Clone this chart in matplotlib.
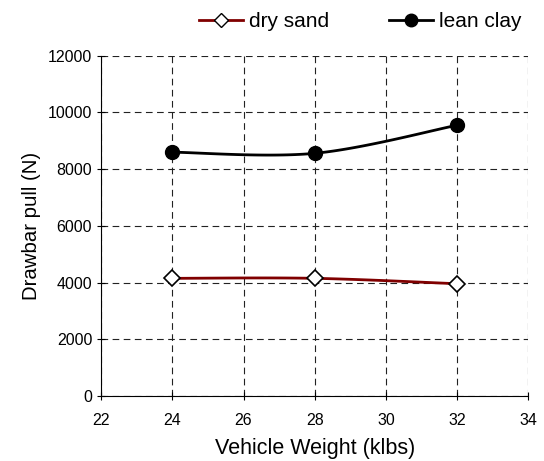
import numpy as np
import matplotlib.pyplot as plt

plt.rcParams['font.family'] = ['Liberation Sans', 'DejaVu Sans']

weight = [24, 28, 32]
dry_sand = [4150, 4150, 3960]
lean_clay = [8600, 8560, 9550]


def smooth(xs, ys, n=40):
    # Excel style smoothed line (Bezier, Catmull-Rom control points)
    p = np.column_stack([xs, ys]).astype(float)
    out = []
    for i in range(len(p) - 1):
        p0 = p[i - 1] if i > 0 else p[i]
        p3 = p[i + 2] if i + 2 < len(p) else p[i + 1]
        c1 = p[i] + (p[i + 1] - p0) / 6
        c2 = p[i + 1] - (p3 - p[i]) / 6
        t = np.linspace(0, 1, n)[:, None]
        seg = ((1 - t) ** 3 * p[i] + 3 * (1 - t) ** 2 * t * c1
               + 3 * (1 - t) * t ** 2 * c2 + t ** 3 * p[i + 1])
        out.append(seg)
    out = np.vstack(out)
    return out[:, 0], out[:, 1]


fig = plt.figure(figsize=(5.44, 4.61), dpi=100)
ax = fig.add_axes([0.186, 0.141, 0.785, 0.738])

sx, sy = smooth(weight, dry_sand)
ax.plot(sx, sy, color='#800000', lw=2, zorder=3)
ax.plot(weight, dry_sand, ls='none', marker='D', ms=8, mfc='white',
        mec='black', mew=1.2, zorder=4)

cx, cy = smooth(weight, lean_clay)
ax.plot(cx, cy, color='black', lw=2, zorder=3)
ax.plot(weight, lean_clay, ls='none', marker='o', ms=10, color='black', zorder=4)

# legend proxies
ax.plot([], [], color='#800000', lw=2, marker='D', ms=7, mfc='white',
        mec='black', label='dry sand')
ax.plot([], [], color='black', lw=2, marker='o', ms=9, label='lean clay')
ax.legend(loc='center', bbox_to_anchor=(0.607, 1.100), ncol=2,
          frameon=False, fontsize=15, handlelength=2.1, handletextpad=0.3,
          columnspacing=2.9, borderaxespad=0, borderpad=0)

ax.set_xlim(22, 34)
ax.set_ylim(0, 12000)
ax.set_xticks(np.arange(22, 35, 2))
ax.set_yticks(np.arange(0, 12001, 2000))
ax.grid(True, color='#222222', ls=(0, (6, 4)), lw=0.8)
ax.tick_params(direction='inout', length=6, labelsize=11.5)
ax.tick_params(axis='x', pad=9)
for s in ['top', 'right']:
    ax.spines[s].set_visible(False)
ax.set_xlabel('Vehicle Weight (klbs)', fontsize=15.5, labelpad=7.5)
ax.set_ylabel('Drawbar pull (N)', fontsize=14.7, labelpad=5)

plt.savefig('out.png', dpi=100)
